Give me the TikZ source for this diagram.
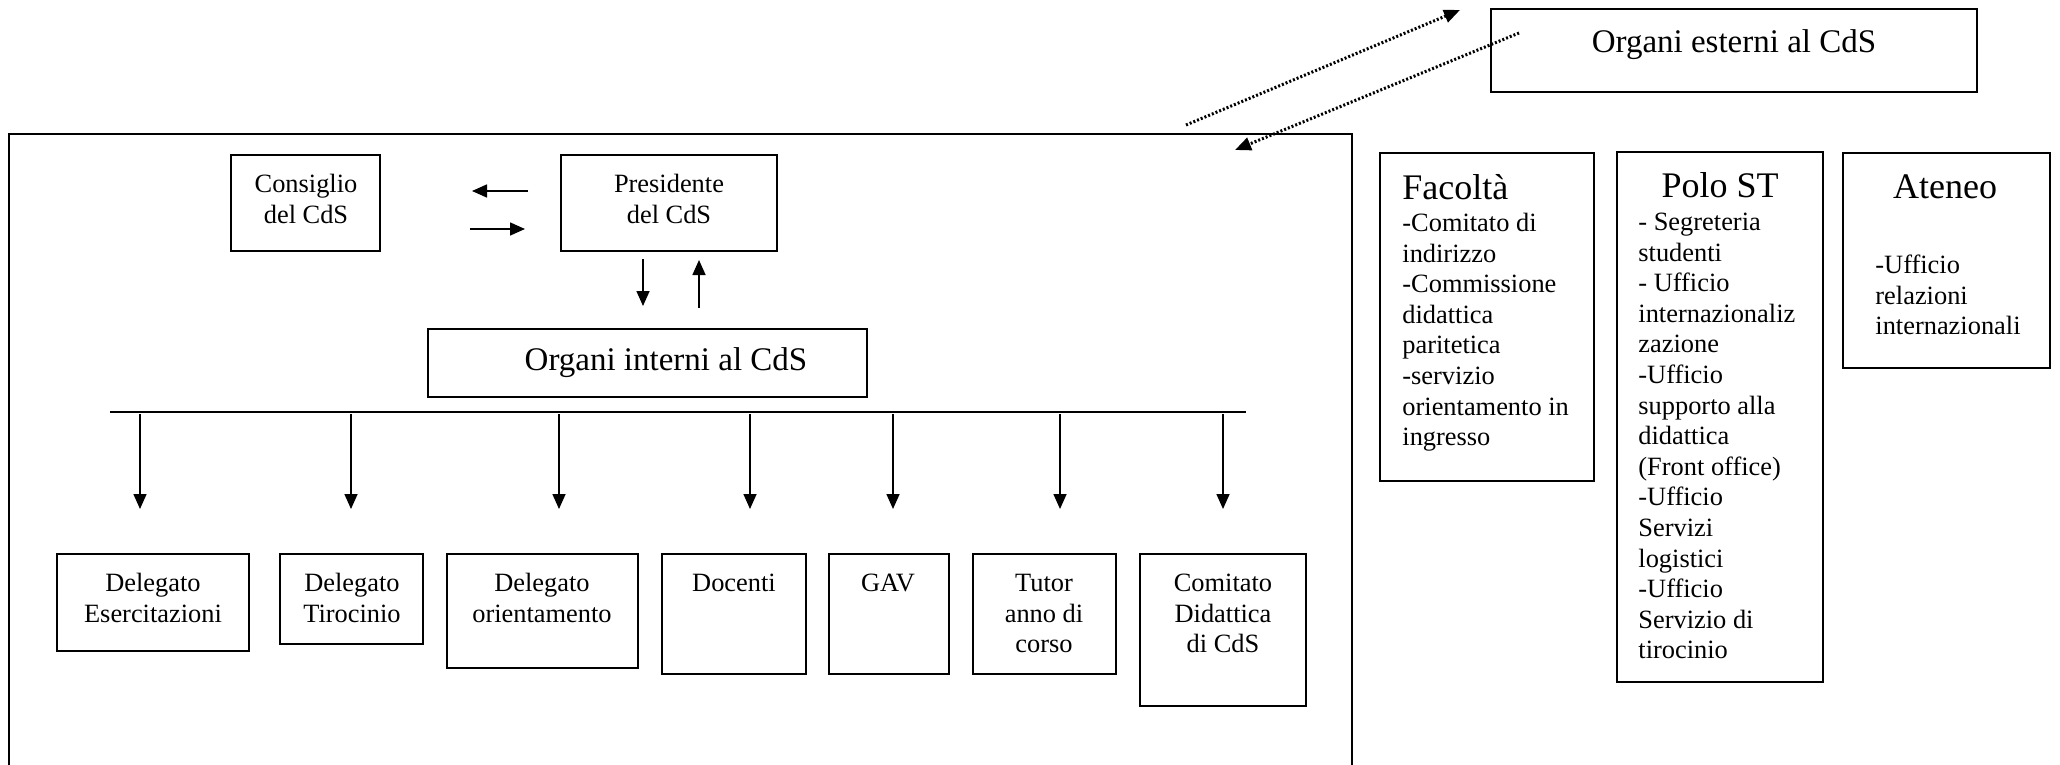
\documentclass[tikz,border=0pt]{standalone}
\usepackage{fontspec}
\setmainfont{Liberation Serif}
\usetikzlibrary{arrows.meta,fit}
\newcommand{\fbody}{\fontsize{13.2pt}{15.3pt}\selectfont}
\newcommand{\fhead}{\fontsize{18pt}{21pt}\selectfont}
\newcommand{\fmid}{\fontsize{16.5pt}{19pt}\selectfont}
\tikzset{
  box/.style={draw, line width=0.8pt, inner sep=0pt},
  txt/.style={inner sep=0pt, font=\fbody},
  arr/.style={line width=0.8pt, -{Triangle[length=7.5pt,width=6.5pt]}},
  dotarr/.style={line width=1.5pt, dash pattern=on 1pt off 1pt, -{Triangle[length=8pt,width=6.5pt]}},
}
\begin{document}
\begin{tikzpicture}[x=0.5pt,y=-0.5pt]
\useasboundingbox (0,0) rectangle (2060,765);
% frames
\node[box, fit={(9,134)(1352,790)}] (frame) {};
\node[box, fit={(1491,9)(1977,92)}] (est) {};
\node[box, fit={(231,155)(380,251)}] (cons) {};
\node[box, fit={(561,155)(777,251)}] (pres) {};
\node[box, fit={(428,329)(867,397)}] (int) {};
\node[box, fit={(57,554)(249,651)}] (b1) {};
\node[box, fit={(280,554)(423,644)}] (b2) {};
\node[box, fit={(447,554)(638,668)}] (b3) {};
\node[box, fit={(662,554)(806,674)}] (b4) {};
\node[box, fit={(829,554)(949,674)}] (b5) {};
\node[box, fit={(973,554)(1116,674)}] (b6) {};
\node[box, fit={(1140,554)(1306,706)}] (b7) {};
\node[box, fit={(1380,153)(1594,481)}] (fac) {};
\node[box, fit={(1617,152)(1823,682)}] (polo) {};
\node[box, fit={(1843,153)(2050,368)}] (ate) {};
% texts
\node[anchor=base, inner sep=0pt, font=\fmid] (estT) at (1734,53) {Organi esterni al CdS};
\node[txt, anchor=north, align=center] (consT) at (306,170.6) {\strut Consiglio\\del CdS};
\node[txt, anchor=north, align=center] (presT) at (669,170.6) {\strut Presidente\\del CdS};
\node[anchor=base, inner sep=0pt, font=\fmid] (intT) at (666,370) {Organi interni al CdS};
\node[txt, anchor=north, align=center] (t1) at (153,569.6) {\strut Delegato\\Esercitazioni};
\node[txt, anchor=north, align=center] (t2) at (352,569.6) {\strut Delegato\\Tirocinio};
\node[txt, anchor=north, align=center] (t3) at (542,569.6) {\strut Delegato\\orientamento};
\node[txt, anchor=north, align=center] (t4) at (734,569.6) {\strut Docenti};
\node[txt, anchor=north, align=center] (t5) at (888,569.6) {\strut GAV};
\node[txt, anchor=north, align=center] (t6) at (1044,569.6) {\strut Tutor\\anno di\\corso};
\node[txt, anchor=north, align=center] (t7) at (1223,569.6) {\strut Comitato\\Didattica\\di CdS};
\node[anchor=base west, inner sep=0pt, font=\fhead] (facH) at (1402,199) {Facoltà};
\node[txt, anchor=north west, align=left] (facL) at (1402,209.6) {\strut -Comitato di\\indirizzo\\-Commissione\\didattica\\paritetica\\-servizio\\orientamento in\\ingresso};
\node[anchor=base, inner sep=0pt, font=\fhead] (poloH) at (1720,197) {Polo ST};
\node[txt, anchor=north west, align=left] (poloL) at (1638,208.6) {\strut - Segreteria\\studenti\\- Ufficio\\internazionaliz\\zazione\\-Ufficio\\supporto alla\\didattica\\(Front office)\\-Ufficio\\Servizi\\logistici\\-Ufficio\\Servizio di\\tirocinio};
\node[anchor=base, inner sep=0pt, font=\fhead] (ateH) at (1945,198) {Ateneo};
\node[txt, anchor=north west, align=left] (ateL) at (1875,251.6) {\strut -Ufficio\\relazioni\\internazionali};
% connectors
\coordinate (d1s) at (1186,125); \coordinate (d1e) at (1460,10);
\coordinate (d2s) at (1519,33); \coordinate (d2e) at (1235,150);
\draw[dotarr] (d1s) -- (d1e);
\draw[dotarr] (d2s) -- (d2e);
\coordinate (a1s) at (528,191); \coordinate (a1e) at (472,191);
\coordinate (a2s) at (470,229); \coordinate (a2e) at (525,229);
\draw[arr] (a1s) -- (a1e);
\draw[arr] (a2s) -- (a2e);
\coordinate (dns) at (643,259); \coordinate (dne) at (643,306);
\coordinate (ups) at (699,308); \coordinate (upe) at (699,260);
\draw[arr] (dns) -- (dne);
\draw[arr] (ups) -- (upe);
\coordinate (hl) at (110,412); \coordinate (hr) at (1246,412);
\draw[line width=1pt] (hl) -- (hr);
\foreach \x [count=\i] in {140,351,559,750,893,1060,1223} {
  \coordinate (v\i s) at (\x,414);
  \coordinate (v\i e) at (\x,509);
  \draw[arr] (v\i s) -- (v\i e);
}
\end{tikzpicture}
\end{document}
